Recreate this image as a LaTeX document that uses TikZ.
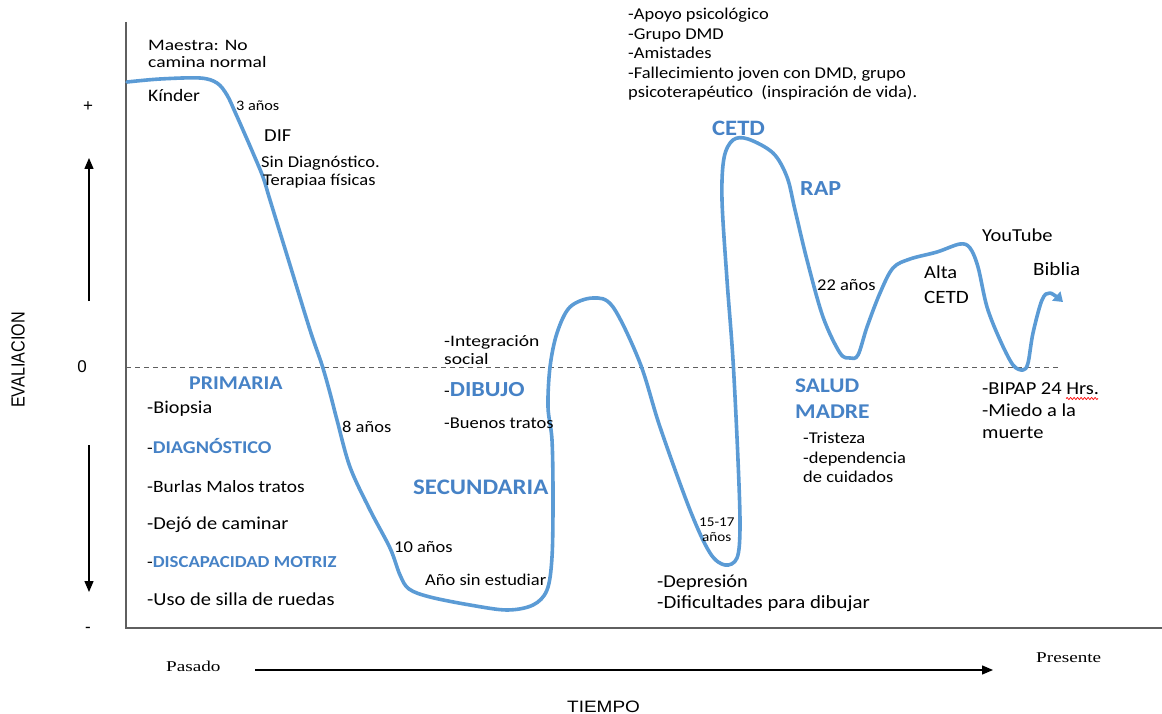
\documentclass[tikz,border=0pt]{standalone}
\usepackage{fontspec}
\setmainfont{Carlito}[FakeStretch=1.12]
\newfontfamily\widef{Carlito}[FakeStretch=1.22]
\newfontfamily\serifw{Liberation Serif}[FakeStretch=1.28]
\newfontfamily\arialf{Liberation Sans}
\newfontfamily\arialt{Liberation Sans}[FakeStretch=1.15]
\newfontfamily\arialc{Liberation Sans}[FakeStretch=0.85]
\usetikzlibrary{arrows.meta,decorations.pathmorphing}
\definecolor{curveblue}{RGB}{91,155,213}
\definecolor{headblue}{RGB}{70,130,198}
\definecolor{axisgray}{RGB}{95,95,95}
\newcommand{\setfs}[1]{\fontsize{#1}{#1}\selectfont}
\begin{document}
\begin{tikzpicture}[x=1pt,y=-1pt,
  lbl/.style={anchor=base west,inner sep=0pt,font=\setfs{16.5}},
  lblM/.style={lbl,font=\setfs{17.5}},
  lblL/.style={lbl,font=\setfs{18.3}},
  lblS/.style={lbl,font=\setfs{14.5}},
  wlbl/.style={anchor=base west,inner sep=0pt,font=\widef\setfs{16}},
  hd/.style={anchor=base west,inner sep=0pt,text=headblue,font=\setfs{19.5}\bfseries},
  axis/.style={draw=axisgray,line width=1.6pt},
  zero/.style={draw=axisgray,line width=0.9pt,dash pattern=on 5pt off 4pt},
  varrow/.style={draw=black,line width=1.3pt,-{Triangle[width=9pt,length=11pt]}},
  harrow/.style={draw=black,line width=1.3pt,-{Triangle[width=9pt,length=11pt]}},
  curve/.style={draw=curveblue,line width=3.6pt,line cap=round,line join=round,-{Triangle[width=12pt,length=9pt]}},
  sidelbl/.style={inner sep=0pt,font=\arialf\setfs{17}},
  serlbl/.style={anchor=base west,inner sep=0pt,font=\serifw\setfs{15}}]
\useasboundingbox (0,0) rectangle (1162,714);
% axes
\coordinate (axTop) at (126,22);
\coordinate (axOrig) at (126,628);
\coordinate (axRight) at (1162,628);
\draw[axis] (axTop) -- (axOrig) -- (axRight);
\coordinate (zL) at (126,367);
\coordinate (zR) at (1060,367);
\draw[zero] (zL) -- (zR);
% left side
\node[sidelbl] (plus) at (88,107) {+};
\node[sidelbl] (zero) at (82,367) {0};
\node[sidelbl] (minus) at (88,630) {-};
\node[inner sep=0pt,rotate=90,font=\arialc\setfs{19}] (eval) at (18,360) {EVALIACION};
\coordinate (upS) at (89,301);
\coordinate (upE) at (89,158);
\draw[varrow] (upS) -- (upE);
\coordinate (dnS) at (89,445);
\coordinate (dnE) at (89,592);
\draw[varrow] (dnS) -- (dnE);
% bottom
\node[serlbl] (pasado) at (166,671) {Pasado};
\node[serlbl] (presente) at (1036,662) {Presente};
\coordinate (tS) at (255,670);
\coordinate (tE) at (993,670);
\draw[harrow] (tS) -- (tE);
\node[anchor=base west,inner sep=0pt,font=\arialt\setfs{16.5}] (tiempo) at (567,712) {TIEMPO};
% curve
\draw[curve] plot[smooth,tension=0.55] coordinates {
 (127,82) (160,79) (200,78) (217,83) (227,95) (235,112) (243,130) (253,153)
 (263,177) (270,200) (290,265) (310,330) (322,365) (330,393) (337,420)
 (350,467) (370,510) (390,548) (400,575) (409,589) (430,597) (470,605)
 (507,610) (533,605) (547,590) (552,557) (553,497) (552,440) (548,407)
 (550,367) (557,333) (570,307) (593,298) (613,307) (640,363) (660,427)
 (690,510) (710,553) (725,565) (737,558) (740,527) (738,460) (733,360)
 (727,280) (722,200) (724,158) (733,140) (748,139) (773,153) (787,177)
 (795,210) (807,260) (823,317) (840,353) (850,358) (858,355) (867,327)
 (880,293) (893,268) (910,259) (937,252) (960,244) (970,248) (978,267)
 (987,307) (1000,340) (1013,365) (1023,370) (1028,363) (1033,333)
 (1042,300) (1050,293) (1063,302)};
% top texts
\node[lbl] (ap1) at (628,20) {-Apoyo psicológico};
\node[lbl] (ap2) at (628,39.5) {-Grupo DMD};
\node[lbl] (ap3) at (628,59) {-Amistades};
\node[lbl] (ap4) at (628,78.5) {-Fallecimiento joven con DMD, grupo};
\node[lbl] (ap5) at (628,98) {psicoterapéutico\ \ (inspiración de vida).};
\node[wlbl] (maes1) at (148,51) {Maestra: No};
\node[wlbl] (maes2) at (148,68) {camina normal};
\node[lblM] (kinder) at (148,102) {Kínder};
\node[lblS] (a3) at (236,111) {3 años};
\node[lblL] (dif) at (264,142) {DIF};
\node[lbl] (sindx) at (261,168) {Sin Diagnóstico.};
\node[lbl] (terap) at (263,186) {Terapiaa físicas};
% left lower block
\node[hd] (prim) at (189,389) {PRIMARIA};
\node[lbl,font=\setfs{18}] (biop) at (147,413) {-Biopsia};
\node[lbl] (diag) at (147,453) {-{\color{headblue}\bfseries\setfs{18}DIAGNÓSTICO}};
\node[lbl,font=\setfs{17.3}] (burlas) at (147,492) {-Burlas Malos tratos};
\node[lbl,font=\setfs{18.2}] (dejo) at (147,529) {-Dejó de caminar};
\node[lbl] (disc) at (147,567) {-{\color{headblue}\bfseries\setfs{16.8}DISCAPACIDAD MOTRIZ}};
\node[lbl,font=\setfs{18.3}] (silla) at (147,605) {-Uso de silla de ruedas};
\node[lbl] (a8) at (342,432) {8 años};
\node[lbl] (a10) at (394,552) {10 años};
\node[lbl] (sinest) at (425,585) {Año sin estudiar};
% middle
\node[wlbl] (integ1) at (444,346.5) {-Integración};
\node[wlbl] (integ2) at (444,364) {social};
\node[lbl] (dibujo) at (444,396) {-{\color{headblue}\bfseries\setfs{21.5}DIBUJO}};
\node[lbl] (buenos) at (444,428) {-Buenos tratos};
\node[hd,font=\setfs{22.2}\bfseries] (secu) at (413,494) {SECUNDARIA};
\node[lblS,font=\setfs{13.5}] (a1517a) at (699,526.5) {15-17};
\node[lblS,font=\setfs{13.5}] (a1517b) at (702,541) {años};
\node[lbl,font=\setfs{18.2}] (depre) at (657,587) {-Depresión};
\node[lbl,font=\setfs{18.6}] (dific) at (657,608) {-Dificultades para dibujar};
% right
\node[hd,font=\setfs{22}\bfseries] (cetd) at (712,136) {CETD};
\node[hd,font=\setfs{21.5}\bfseries] (rap) at (800,196) {RAP};
\node[lbl] (a22) at (817,290) {22 años};
\node[hd,font=\setfs{20.8}\bfseries] (salud) at (795,392) {SALUD};
\node[hd,font=\setfs{21}\bfseries] (madre) at (795,418) {MADRE};
\node[lbl] (trist) at (803,443) {-Tristeza};
\node[lbl] (depen) at (803,463) {-dependencia};
\node[lbl] (cuid) at (803,482) {de cuidados};
\node[lblL] (alta1) at (924,278) {Alta};
\node[lblL,font=\setfs{18.8}] (alta2) at (924,303) {CETD};
\node[lblL] (yt) at (982,241) {YouTube};
\node[lblL,font=\setfs{18.8}] (biblia) at (1033,275) {Biblia};
\node[lblL] (bipap) at (982,394) {-BIPAP 24 Hrs.};
\node[lblL] (miedo) at (982,416) {-Miedo a la};
\node[lblL] (muerte) at (982,438) {muerte};
\coordinate (wS) at (1066,398.5);
\coordinate (wE) at (1098,398.5);
\draw[red,line width=0.7pt,decorate,decoration={snake,amplitude=1pt,segment length=3.5pt}] (wS) -- (wE);
\end{tikzpicture}
\end{document}
